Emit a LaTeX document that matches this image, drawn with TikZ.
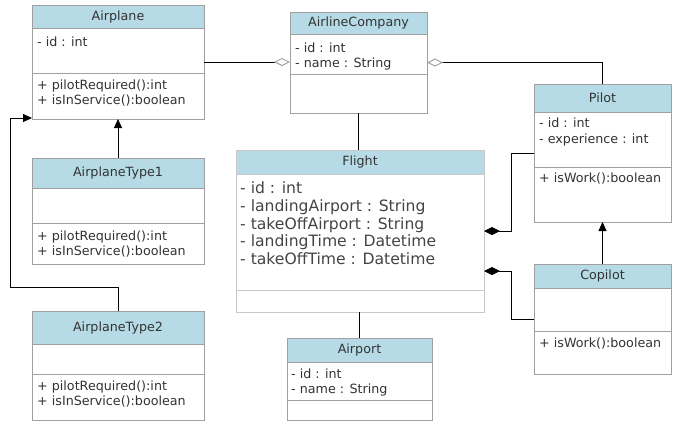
\documentclass[tikz,border=0pt]{standalone}
\usepackage{fontspec}
\setmainfont{DejaVu Sans}
\usetikzlibrary{arrows.meta,fit}
\definecolor{hdr}{HTML}{B6DBE6}
\definecolor{bord}{HTML}{A0A0A0}
\definecolor{lightbord}{HTML}{C8C8C8}
\definecolor{txt}{HTML}{333333}
\definecolor{ftxt}{HTML}{444444}
\tikzset{
  classbox/.style={draw=bord, line width=1pt, inner sep=0pt, outer sep=0pt},
  sepline/.style={draw=bord, line width=1pt},
  ttl/.style={font=\fontsize{12.7}{15}\selectfont, text=txt, inner sep=0pt},
  lbl/.style={font=\fontsize{12.7}{15}\selectfont, text=txt, inner sep=0pt, anchor=base west},
  biglbl/.style={font=\fontsize{15.6}{18}\selectfont, text=ftxt, inner sep=0pt, anchor=base west},
  conn/.style={draw=black, line width=0.9pt},
  inherit/.style={conn, -{Triangle[width=8pt,length=9pt]}},
  aggr/.style={conn, -{Diamond[width=8pt,length=16pt,fill=white,color=bord]}},
  comp/.style={conn, -{Diamond[width=8pt,length=16pt]}},
}
% #1 extra style, #2 name, #3 x1, #4 y1, #5 x2, #6 header bottom, #7 divider, #8 y2, #9 title
\newcommand\umlclass[9][]{%
  \fill[hdr] (#3,#4) rectangle (#5,#6);
  \draw[sepline,#1] (#3,#6) -- (#5,#6) (#3,#7) -- (#5,#7);
  \coordinate (#2-nw) at (#3,#4);
  \coordinate (#2-se) at (#5,#8);
  \node[classbox,#1, fit=(#2-nw)(#2-se)] (#2) {};
  \node[ttl] (#2-title) at ({(#3+#5)/2},{(#4+#6)/2}) {#9};
}
% #1 name, #2 x, #3 first baseline, #4 style, #5 line step, #6 list
\newcommand\umllines[6]{%
  \foreach \t [count=\i] in {#6} {\node[#4] (#1-\i) at (#2,{#3+(\i-1)*#5}) {\t};}
}
\begin{document}
\begin{tikzpicture}[x=1pt,y=-1pt]
\useasboundingbox (0,0) rectangle (698,432);
\fill[white] (0,0) rectangle (698,432);

\umlclass{airplane}{32}{5}{204}{28}{73}{119}{Airplane}
\umllines{airplane-a}{37}{46.5}{lbl}{15}{- id : int}
\umllines{airplane-m}{37}{89.5}{lbl}{15}{+ pilotRequired():int, + isInService():boolean}

\umlclass{company}{290}{12}{427}{34}{74}{113}{AirlineCompany}
\umllines{company-a}{295}{52.5}{lbl}{15}{- id : int, - name : String}

\umlclass{pilot}{534}{84}{671}{112}{167}{222}{Pilot}
\umllines{pilot-a}{539}{127.5}{lbl}{15.5}{- id : int, - experience : int}
\umllines{pilot-m}{539}{182.5}{lbl}{15}{+ isWork():boolean}

\umlclass[draw=lightbord]{flight}{236}{150}{484}{174}{290}{312}{Flight}
\umllines{flight-a}{240}{193.5}{biglbl}{17.75}{- id : int, - landingAirport : String, - takeOffAirport : String, - landingTime : Datetime, - takeOffTime : Datetime}

\umlclass{type1}{32}{158}{204}{188}{223}{264}{AirplaneType1}
\umllines{type1-m}{37}{240.5}{lbl}{15}{+ pilotRequired():int, + isInService():boolean}

\umlclass{type2}{32}{311}{204}{344}{374}{420}{AirplaneType2}
\umllines{type2-m}{37}{390.5}{lbl}{15}{+ pilotRequired():int, + isInService():boolean}

\umlclass{airport}{287}{338}{432}{362}{400}{420}{Airport}
\umllines{airport-a}{291}{378.5}{lbl}{15}{- id : int, - name : String}

\umlclass{copilot}{534}{264}{671}{288}{331}{374}{Copilot}
\umllines{copilot-m}{539}{347.5}{lbl}{15}{+ isWork():boolean}

% connectors
\draw[aggr] (airplane.east) -- (airplane.east -| company.west);
\draw[aggr] (pilot.north) |- (company.east);
\draw[conn] (company.south) -- (company.south |- flight.north);
\draw[conn] (airport.north) -- (airport.north |- flight.south);
\draw[inherit] (type1.north) -- (airplane.south);
\coordinate (k1) at (10,287);
\coordinate (k2) at (10,118);
\draw[inherit] (type2.north) |- (k1) -- (k2) -- (k2 -| airplane.west);
\coordinate (j1) at (511,231);
\coordinate (j2) at (511,271);
\draw[comp] (pilot.west) -| (j1) -- (j1 -| flight.east);
\draw[comp] (copilot.west) -| (j2) -- (j2 -| flight.east);
\draw[inherit] (copilot.north) -- (pilot.south);
\end{tikzpicture}
\end{document}
